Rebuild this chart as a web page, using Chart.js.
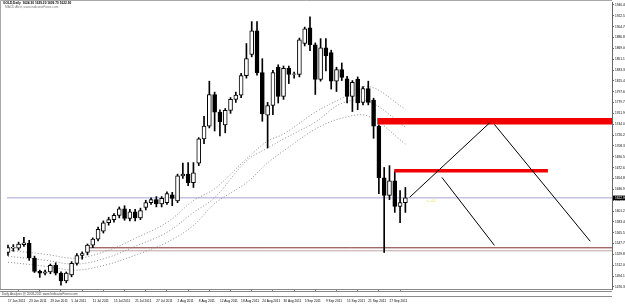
<!DOCTYPE html>
<html>
<head>
<meta charset="utf-8">
<script src="https://cdn.jsdelivr.net/npm/chart.js@4.4.1/dist/chart.umd.min.js"></script>
<style>
html, body { margin: 0; padding: 0; background: #fff; }
#wrap { width: 625px; height: 304px; }
</style>
</head>
<body>
<div id="wrap"><canvas id="gold-chart" width="625" height="304"></canvas></div>
<script>
// GOLD daily bars, 17 Jun 2011 .. 30 Sep 2011 (one bar per weekday)
var opens  = [1533,1540,1540,1546,1548,1524,1502,1499,1501,1512,1499,1486,1496,1515,1528,1533,1545,1555,1568,1582,
              1587,1594,1605,1589,1600,1590,1607,1615,1620,1613,1615,1628,1618,1659,1662,1648,1680,1720,1741,1793,
              1764,1743,1767,1785,1792,1824,1859,1898,1829,1759,1775,1838,1790,1836,1826,1826,1877,1903,1875,1818,
              1870,1862,1815,1834,1819,1790,1818,1780,1803,1784,1741,1656,1627,1651,1609,1615];
var highs  = [1545,1546,1550,1558,1553,1527,1504,1504,1514,1516,1501,1501,1518,1531,1534,1547,1557,1575,1585,1591,
              1597,1608,1610,1604,1604,1606,1619,1623,1625,1625,1633,1632,1662,1680,1681,1681,1722,1757,1815,1797,
              1768,1770,1788,1797,1828,1877,1913,1913,1852,1780,1833,1842,1840,1840,1830,1886,1904,1921,1878,1885,
              1885,1866,1838,1845,1823,1816,1822,1806,1815,1787,1743,1673,1676,1667,1635,1640];
var lows   = [1528,1535,1537,1543,1520,1500,1492,1496,1498,1496,1479,1483,1493,1512,1522,1529,1541,1552,1565,1578,
              1583,1590,1586,1585,1585,1587,1603,1612,1608,1608,1612,1610,1615,1655,1643,1640,1676,1712,1738,1733,
              1725,1730,1762,1780,1788,1820,1855,1825,1749,1705,1760,1779,1785,1811,1820,1822,1873,1865,1793,1815,
              1832,1802,1798,1816,1779,1765,1768,1776,1776,1721,1630,1533,1620,1599,1582,1599];
var closes = [1541,1542,1547,1549,1524,1502,1499,1501,1512,1499,1486,1499,1515,1528,1531,1545,1555,1571,1582,1587,
              1594,1605,1589,1600,1590,1602,1615,1620,1613,1622,1630,1622,1659,1662,1648,1664,1720,1741,1793,1764,
              1748,1767,1785,1792,1824,1852,1898,1829,1761,1775,1829,1790,1836,1826,1827,1883,1901,1875,1818,1870,
              1857,1815,1834,1821,1790,1813,1779,1803,1780,1741,1656,1627,1651,1609,1615,1622.9];

// date labels, one every 4 bars
var dateLabels = ['17 Jun 2011','23 Jun 2011','29 Jun 2011','5 Jul 2011','11 Jul 2011','15 Jul 2011','21 Jul 2011',
                  '27 Jul 2011','2 Aug 2011','8 Aug 2011','12 Aug 2011','18 Aug 2011','24 Aug 2011','30 Aug 2011',
                  '5 Sep 2011','9 Sep 2011','15 Sep 2011','21 Sep 2011','27 Sep 2011'];

// price scale labels
var priceTicks = [1940.40,1922.55,1904.70,1886.85,1869.00,1851.15,1833.30,1815.45,1797.60,1779.75,1761.90,1744.05,
                  1726.20,1708.35,1690.50,1672.65,1654.80,1636.95,1619.10,1601.25,1583.40,1565.55,1547.70,1529.85,
                  1512.00,1494.15,1476.30];

// three dotted indicator lines, read at some bars
var maBars  = [0, 7, 13, 19, 24, 30, 35, 39, 45, 49, 52, 58, 63, 68, 75];
var maUpper = [1536.7,1530.1,1523.6,1536.7,1556.3,1582.4,1618.4,1638.0,1687.1,1716.5,1727.9,1763.9,1786.8,1806.4,1768.8];
var maMid   = [1526.8,1520.3,1513.8,1525.2,1543.2,1566.1,1598.8,1623.3,1683.8,1705.1,1719.8,1747.6,1778.6,1781.9,1739.4];
var maLow   = [1517.0,1510.5,1504.0,1513.8,1528.5,1549.7,1577.5,1613.5,1647.8,1680.5,1700.1,1736.1,1754.1,1757.4,1711.6];

// drawn objects: [barFrom, priceFrom, barTo, priceTo]
var bidPrice = 1622.90;
var supportLines = [[15.3, 1540.7, 114, 1540.7], [15.3, 1535.8, 114, 1535.8]];
var redLevels = [[69.7, 1749.2, 114, 1749.2], [72.9, 1667.4, 101.9, 1667.4]];
var trendLines = [[75.8, 1623.8, 90.9, 1746.4], [81.9, 1656.5, 91.8, 1544.8], [91.8, 1743.8, 109.9, 1551.4]];

var headerText = 'GOLD,Daily  1624.30 1629.20 1609.70 1622.90';
var subText = 'MACD Alert, www.indicatorForex.com';

var FONT = '"Liberation Sans", Arial, sans-serif';

function seg(s) { return [{ x: s[0], y: s[1] }, { x: s[2], y: s[3] }]; }
function maData(vals) { return maBars.map(function (b, i) { return { x: b, y: vals[i] }; }); }

var datasets = [];

datasets.push({
    type: 'bar', label: 'body', order: 1, grouped: false,
    data: opens.map(function (o, i) { return { x: i, y: [o, closes[i]] }; }),
    backgroundColor: opens.map(function (o, i) { return closes[i] >= o ? '#ffffff' : '#000000'; }),
    borderColor: '#000000', borderWidth: 1, borderSkipped: false, barThickness: 4
});
datasets.push({
    type: 'bar', label: 'wick', order: 2, grouped: false,
    data: lows.map(function (l, i) { return { x: i, y: [l, highs[i]] }; }),
    backgroundColor: '#000000', borderWidth: 0, barThickness: 1
});

[maUpper, maMid, maLow].forEach(function (vals) {
    datasets.push({
        type: 'line', order: 5, data: maData(vals), borderColor: '#8c8c8c', borderWidth: 1,
        borderDash: [1, 2], pointRadius: 0, tension: 0.35, fill: false
    });
});

datasets.push({
    type: 'line', order: 6, data: seg([-1, bidPrice, 114, bidPrice]), borderColor: '#a4a4d4',
    borderWidth: 1, pointRadius: 0, clip: 0
});
datasets.push({
    type: 'line', order: 6, data: seg(supportLines[0]), borderColor: '#7a2e2e', borderWidth: 1, pointRadius: 0, clip: 0
});
datasets.push({
    type: 'line', order: 6, data: seg(supportLines[1]), borderColor: '#bfa3a3', borderWidth: 1, pointRadius: 0, clip: 0
});
datasets.push({
    type: 'line', order: -1, data: seg(redLevels[0]), borderColor: '#f00000', borderWidth: 6.5,
    borderCapStyle: 'butt', pointRadius: 0, clip: 0
});
datasets.push({
    type: 'line', order: -1, data: seg(redLevels[1]), borderColor: '#f00000', borderWidth: 3.5,
    borderCapStyle: 'butt', pointRadius: 0, clip: 0
});
trendLines.forEach(function (t) {
    datasets.push({
        type: 'line', order: -2, data: seg(t), borderColor: '#000000', borderWidth: 1, pointRadius: 0, clip: 0
    });
});

// header texts, bottom window, bid box
var mtDecor = {
    id: 'mtDecor',
    afterDraw: function (chart) {
        var ctx = chart.ctx, a = chart.chartArea, ys = chart.scales.y, xs = chart.scales.x;
        ctx.save();
        ctx.strokeStyle = '#a8a8a8';
        ctx.lineWidth = 1;
        ctx.beginPath();
        ctx.moveTo(0.5, a.bottom); ctx.lineTo(0.5, 0.5); ctx.lineTo(a.right, 0.5);
        ctx.stroke();
        // small window under the chart
        ctx.strokeStyle = '#8a8a8a';
        ctx.beginPath();
        ctx.moveTo(0, a.bottom + 0.5); ctx.lineTo(a.right, a.bottom + 0.5);
        ctx.moveTo(0, a.bottom + 2.5); ctx.lineTo(a.right, a.bottom + 2.5);
        ctx.moveTo(0, a.bottom + 7.5); ctx.lineTo(a.right, a.bottom + 7.5);
        ctx.stroke();

        ctx.textBaseline = 'middle';
        ctx.textAlign = 'left';
        ctx.fillStyle = '#000';
        ctx.font = 'bold 3.2px ' + FONT;
        ctx.fillText(headerText, 3, 3.5);
        ctx.font = '3.2px ' + FONT;
        ctx.fillStyle = '#777';
        ctx.fillText(subText, 5, 7.5);
        ctx.fillStyle = '#444';
        ctx.fillText('Daily Analysis @ 2008-2011 www.IndicatorForex.com', 2, a.bottom + 5);

        // yellow note next to last bar
        ctx.fillStyle = '#e8e040';
        ctx.fillText('<-- 0.1', xs.getPixelForValue(79), ys.getPixelForValue(1618));

        // bid price box on the axis
        var py = ys.getPixelForValue(bidPrice);
        ctx.fillStyle = '#000';
        ctx.fillRect(a.right + 1, py - 2.3, 13, 4.6);
        ctx.fillStyle = '#fff';
        ctx.fillText(bidPrice.toFixed(2), a.right + 3, py);
        ctx.restore();
    }
};

new Chart(document.getElementById('gold-chart').getContext('2d'), {
    type: 'bar',
    data: { datasets: datasets },
    options: {
        responsive: false,
        animation: false,
        events: [],
        layout: { padding: { top: 1, left: 1, right: 0, bottom: 0 } },
        plugins: { legend: { display: false }, tooltip: { enabled: false } },
        scales: {
            x: {
                type: 'linear', min: -0.19, max: 114, offset: false,
                afterBuildTicks: function (scale) {
                    scale.ticks = dateLabels.map(function (d, i) { return { value: i * 4 }; });
                },
                afterFit: function (scale) { scale.height = 15; },
                ticks: {
                    align: 'start', maxRotation: 0, autoSkip: false, padding: 8, color: '#000',
                    font: { family: FONT, size: 3.2 },
                    callback: function (v) { return dateLabels[Math.round(v / 4)]; }
                },
                grid: { drawOnChartArea: false, tickLength: 2, color: '#777' },
                border: { display: false }
            },
            y: {
                position: 'right', min: 1472.9, max: 1943.8,
                afterBuildTicks: function (scale) {
                    scale.ticks = priceTicks.map(function (v) { return { value: v }; });
                },
                afterFit: function (scale) { scale.width = 13; },
                ticks: {
                    autoSkip: false, padding: 1, color: '#000',
                    font: { family: FONT, size: 3.2 },
                    callback: function (v) { return v.toFixed(2); }
                },
                grid: { drawOnChartArea: false, tickLength: 2, color: '#666' },
                border: { color: '#666', width: 1 }
            }
        }
    },
    plugins: [mtDecor]
});
</script>
</body>
</html>
